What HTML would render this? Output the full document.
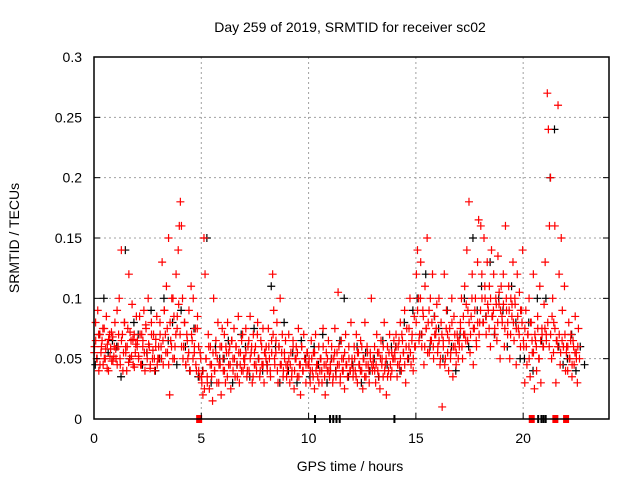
<!DOCTYPE html>
<html><head><meta charset="utf-8"><style>
body{margin:0;background:#fff;}
svg text{font-family:"Liberation Sans",sans-serif;font-size:14px;fill:#000;}
</style></head><body>
<svg id="chart" width="640" height="480" xmlns="http://www.w3.org/2000/svg">
<text x="350" y="32" text-anchor="middle">Day 259 of 2019, SRMTID for receiver sc02</text>
<text x="350" y="471" text-anchor="middle">GPS time / hours</text>
<text transform="translate(19,238) rotate(-90)" text-anchor="middle">SRMTID / TECUs</text>
<g id="grid"></g><g id="marks"></g><g id="axes"></g>
</svg>
<script>
const xTicks=[0,5,10,15,20];
const yTicks=[0,0.05,0.1,0.15,0.2,0.25,0.3];
const yTickLabels=["0","0.05","0.1","0.15","0.2","0.25","0.3"];
const redValues=[
[.06,.08,.05,.09,.04,.07,.055,.065,.045,.075,.05,.085,.062,.04,.07,.058,.048,.068,.052,.08],
[.05,.09,.06,.1,.045,.14,.07,.055,.08,.06,.04,.075,.12,.05,.065,.095,.045,.07,.055,.085],
[.065,.05,.085,.045,.07,.06,.09,.04,.075,.055,.1,.06,.045,.08,.05,.07,.04,.06,.085,.05],
[.05,.08,.06,.13,.045,.09,.07,.11,.055,.15,.02,.065,.1,.05,.085,.06,.12,.075,.14,.16],
[.18,.16,.1,.06,.08,.045,.07,.05,.09,.04,.11,.065,.1,.055,.075,.04,.085,.06,.035,.05],
[.03,.02,.15,.12,.05,.035,.07,.025,.06,.045,.015,.1,.04,.055,.03,.08,.045,.06,.02,.075],
[.04,.07,.03,.055,.08,.045,.06,.025,.065,.05,.075,.035,.06,.045,.085,.03,.055,.04,.07,.05],
[.05,.075,.035,.06,.04,.085,.055,.03,.07,.045,.06,.04,.08,.05,.035,.065,.045,.075,.03,.055],
[.06,.04,.075,.05,.035,.065,.12,.09,.045,.055,.08,.03,.06,.1,.045,.07,.04,.055,.065,.035],
[.045,.07,.03,.055,.04,.065,.025,.05,.06,.035,.075,.045,.02,.06,.04,.07,.05,.03,.055,.045],
[.05,.03,.065,.04,.055,.025,.07,.045,.035,.06,.04,.05,.03,.075,.045,.02,.055,.04,.065,.035],
[.04,.06,.03,.05,.075,.035,.055,.105,.045,.03,.065,.04,.05,.025,.07,.045,.035,.06,.04,.08],
[.05,.035,.06,.04,.07,.03,.055,.045,.065,.04,.025,.05,.08,.035,.06,.045,.03,.055,.1,.04],
[.045,.06,.03,.07,.04,.055,.025,.065,.05,.035,.08,.045,.02,.06,.04,.07,.035,.055,.05,.065],
[.05,.07,.035,.06,.045,.08,.04,.065,.055,.09,.03,.075,.05,.06,.1,.045,.07,.04,.085,.06],
[.12,.14,.1,.07,.13,.06,.09,.045,.11,.075,.15,.08,.055,.1,.065,.12,.05,.085,.07,.095],
[.06,.1,.045,.08,.01,.065,.12,.05,.09,.07,.04,.075,.055,.1,.035,.085,.06,.045,.07,.05],
[.06,.08,.1,.05,.07,.11,.065,.14,.09,.18,.055,.085,.12,.045,.075,.1,.06,.13,.165,.08],
[.16,.12,.08,.15,.1,.07,.13,.09,.11,.06,.14,.085,.12,.075,.1,.065,.135,.095,.05,.11],
[.08,.12,.06,.16,.09,.07,.11,.05,.1,.085,.13,.065,.095,.045,.12,.075,.105,.06,.09,.14],
[.06,.03,.09,.045,.07,.1,.035,.08,.055,.12,.025,.065,.04,.085,.05,.11,.03,.075,.06,.095],
[.13,.07,.27,.24,.16,.2,.05,.1,.08,.16,.03,.065,.26,.12,.045,.15,.09,.06,.11,.04],
[.06,.04,.08,.05,.07,.035,.065,.045,.085,.055,.03,.075,.05]
];
const redValues2=[
[.055,.065,.05,.07,.045,.06,.075,.05,.058,.042,.066,.052,.072,.048,.06],
[.058,.045,.07,.05,.065,.04,.08,.055,.06,.047,.072,.052,.066,.043,.062],
[.06,.052,.07,.045,.065,.055,.078,.05,.062,.042,.07,.057,.05,.066,.045],
[.06,.07,.05,.065,.09,.055,.075,.045,.08,.06,.1,.05,.07,.085,.095],
[.07,.06,.05,.08,.045,.065,.055,.04,.07,.05,.06,.045,.075,.04,.055],
[.035,.04,.025,.05,.03,.06,.045,.035,.055,.04,.065,.05,.03,.045,.06],
[.05,.04,.06,.035,.055,.045,.065,.04,.05,.06,.035,.055,.045,.065,.04],
[.045,.055,.04,.065,.05,.06,.035,.055,.045,.07,.05,.04,.06,.045,.055],
[.05,.045,.06,.04,.055,.07,.05,.065,.04,.06,.045,.055,.035,.05,.045],
[.04,.05,.045,.035,.06,.04,.05,.055,.035,.045,.06,.04,.05,.045,.055],
[.045,.04,.05,.035,.055,.04,.045,.03,.05,.04,.06,.035,.045,.05,.04],
[.045,.05,.035,.055,.04,.045,.06,.035,.05,.04,.055,.045,.035,.05,.04],
[.045,.04,.05,.035,.055,.045,.04,.06,.05,.035,.045,.055,.04,.05,.045],
[.05,.04,.045,.055,.035,.05,.045,.06,.04,.05,.035,.055,.045,.04,.05],
[.055,.06,.045,.065,.05,.07,.055,.045,.06,.05,.075,.055,.065,.05,.06],
[.08,.09,.065,.1,.07,.085,.06,.075,.055,.09,.065,.08,.06,.07,.075],
[.055,.065,.05,.07,.06,.045,.075,.055,.065,.05,.08,.06,.07,.055,.065],
[.065,.075,.06,.085,.07,.095,.065,.08,.07,.1,.075,.09,.065,.08,.07],
[.09,.1,.08,.11,.085,.095,.075,.1,.085,.09,.07,.095,.08,.105,.09],
[.085,.095,.075,.1,.08,.09,.07,.095,.08,.1,.075,.085,.07,.09,.08],
[.065,.075,.06,.07,.05,.08,.065,.055,.07,.06,.075,.05,.065,.07,.06],
[.075,.065,.08,.06,.07,.085,.055,.075,.065,.06,.07,.055,.065,.06,.07],
[.055,.06,.05,.065,.045,.06,.055,.05,.06]
];
const blackValues=[
[.045,.07,.1,.055,.065],[.06,.035,.14,.05,.08],[.07,.045,.055,.09,.04],[.05,.1,.065,.08,.045],
[.09,.06,.04,.075,.035],[.04,.15,.03,.06,.05],[.05,.065,.03,.045,.07],[.06,.035,.075,.05,.04],
[.045,.11,.06,.03,.08],[.04,.055,.03,.065,.05],[.035,.06,.045,.07,.03],[.05,.04,.065,.1,.035],
[.045,.06,.03,.055,.04],[.05,.035,.065,.045,.06],[.06,.04,.08,.05,.09],[.1,.07,.12,.06,.085],
[.075,.05,.09,.06,.04],[.07,.1,.06,.15,.09],[.11,.085,.13,.07,.1],[.09,.06,.11,.08,.05],
[.05,.08,.04,.1,.065],[.1,.2,.24,.06,.045],[.05,.07,.04,.06,.045]
];
const redZeroHours=[4.9,20.4,21.5,22.0];
const blackZeroHours=[10.3,11.0,11.15,11.3,11.45,14.0,20.7,20.85,20.95,21.05];
const X0=94,X1=609,Y0=419,Y1=57,XMAX=24,YMAX=0.3;
const xs=h=>X0+(X1-X0)*h/XMAX;
const ys=v=>Y0-(Y0-Y1)*v/YMAX;
const NS="http://www.w3.org/2000/svg";
const grid=document.getElementById('grid'),marks=document.getElementById('marks'),axes=document.getElementById('axes');
function mk(tag,attrs,parent){const e=document.createElementNS(NS,tag);for(const k in attrs)e.setAttribute(k,attrs[k]);parent.appendChild(e);return e;}
xTicks.forEach(t=>{
  if(t>0){const g=mk('line',{x1:xs(t),x2:xs(t),y1:Y0,y2:Y1,stroke:'#a0a0a0','stroke-dasharray':'2,3'},grid);
  
  }
  const tk=mk('line',{x1:xs(t),x2:xs(t),y1:Y0,y2:Y0-6,stroke:'#000'},axes);
  
  
  const tl=mk('text',{x:xs(t),y:Y0+24,'text-anchor':'middle'},axes);tl.textContent=t;
  
  
});
yTicks.forEach((t,i)=>{
  if(t>0&&t<YMAX){const g=mk('line',{x1:X0,x2:X1,y1:ys(t),y2:ys(t),stroke:'#a0a0a0','stroke-dasharray':'2,3'},grid);
  
  }
  const tk=mk('line',{x1:X0,x2:X0+6,y1:ys(t),y2:ys(t),stroke:'#000'},axes);
  
  
  mk('line',{x1:X1,x2:X1-6,y1:ys(t),y2:ys(t),stroke:'#000'},axes);
  const tl=mk('text',{x:X0-12,y:ys(t)+5,'text-anchor':'end'},axes);tl.textContent=yTickLabels[i];
  
  
});
const frame=mk('rect',{x:X0,y:Y1,width:X1-X0,height:Y0-Y1,fill:'none',stroke:'#000','stroke-width':1.5},axes);


function plus(h,v,col,name){
  const x=xs(h),y=ys(v);
  const p=mk('path',{d:`M${x-4},${y}h8M${x},${y-4}v8`,stroke:col,'stroke-width':1.2,fill:'none'},marks);
  
  
}
blackValues.forEach((arr,hr)=>arr.forEach((v,i)=>plus(hr+(i+0.3)/arr.length,v,'#000','black-point')));
redValues.forEach((arr,hr)=>arr.forEach((v,i)=>plus(hr+(i+0.5)/Math.max(arr.length,20),v,'#ff0000','red-point')));
redValues2.forEach((arr,hr)=>arr.forEach((v,i)=>plus(hr+(i+0.2)/Math.max(arr.length,15),v,'#ff0000','red-point')));
blackZeroHours.forEach(h=>{const r=mk('rect',{x:xs(h)-1,y:Y0-4,width:2,height:8,fill:'#000'},marks);
  
  });
redZeroHours.forEach(h=>{const r=mk('rect',{x:xs(h)-3,y:Y0-4,width:6,height:8,fill:'#ff0000'},marks);
  
  });
</script>
</body></html>
